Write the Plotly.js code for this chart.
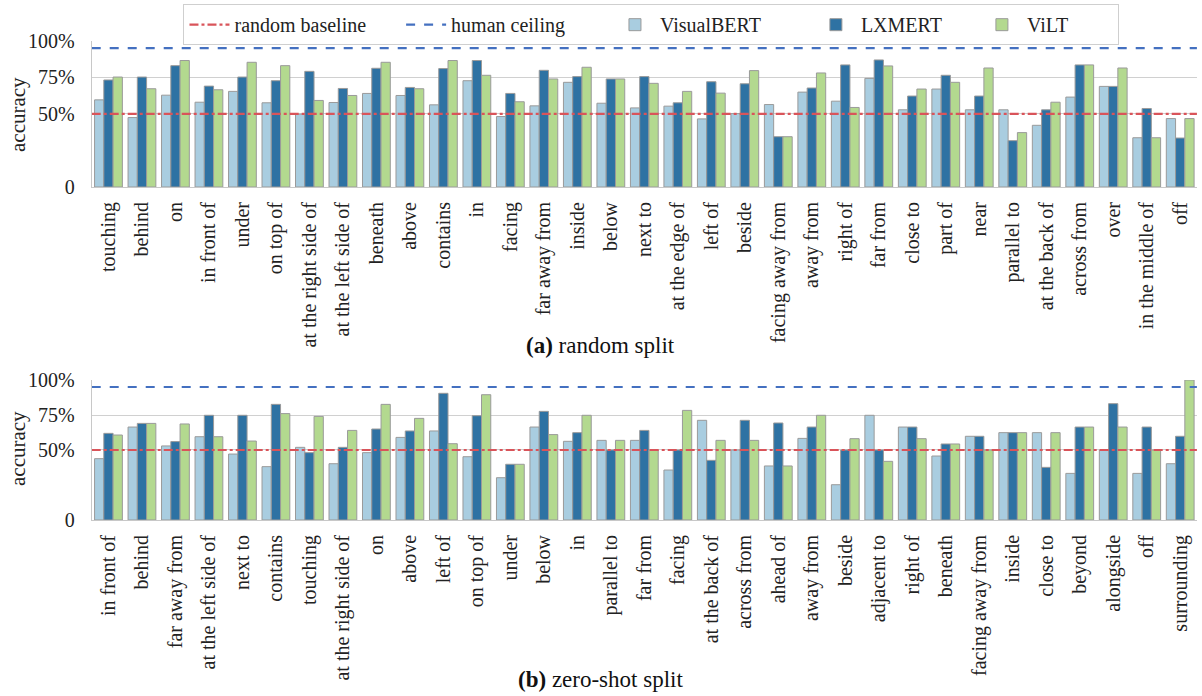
<!DOCTYPE html>
<html>
<head>
<meta charset="utf-8">
<script src="https://cdn.plot.ly/plotly-3.0.1.min.js"></script>
<style>
  html, body { margin: 0; padding: 0; background: #fff; }
  #chart { width: 1202px; height: 696px; }
</style>
</head>
<body>
<div id="chart"></div>
<script>
// Relations, random split
const relationsRandom = ["touching", "behind", "on", "in front of", "under", "on top of",
  "at the right side of", "at the left side of", "beneath", "above", "contains", "in",
  "facing", "far away from", "inside", "below", "next to", "at the edge of", "left of",
  "beside", "facing away from", "away from", "right of", "far from", "close to", "part of",
  "near", "parallel to", "at the back of", "across from", "over", "in the middle of", "off"];
const visualbertRandom = [59.6, 47.5, 62.8, 58.0, 65.4, 57.6, 49.8, 57.8, 64.0, 62.6, 56.2, 72.7,
  48.2, 55.5, 71.6, 57.3, 54.1, 55.3, 46.6, 50.2, 56.4, 64.9, 58.7, 74.3, 52.8, 67.0,
  52.8, 52.8, 42.2, 61.5, 68.8, 33.7, 46.8];
const lxmertRandom = [73.2, 75.2, 83.0, 69.0, 75.2, 72.7, 79.1, 67.4, 81.2, 68.1, 81.0, 86.5,
  64.0, 79.8, 75.5, 73.9, 75.5, 57.6, 72.0, 70.6, 34.4, 67.7, 83.5, 86.9, 62.2, 76.4,
  62.2, 31.7, 52.8, 83.5, 68.8, 53.7, 33.5];
const viltRandom = [75.2, 67.2, 86.5, 66.5, 85.3, 83.0, 59.2, 62.6, 85.3, 67.2, 86.5, 76.4,
  58.3, 73.9, 81.9, 73.9, 70.9, 65.4, 64.2, 79.6, 34.4, 78.0, 54.4, 82.8, 67.0, 71.6,
  81.4, 37.2, 58.0, 83.5, 81.4, 33.7, 46.8];

// Relations, zero-shot split
const relationsZero = ["in front of", "behind", "far away from", "at the left side of", "next to",
  "contains", "touching", "at the right side of", "on", "above", "left of", "on top of",
  "under", "below", "in", "parallel to", "far from", "facing", "at the back of",
  "across from", "ahead of", "away from", "beside", "adjacent to", "right of", "beneath",
  "facing away from", "inside", "close to", "beyond", "alongside", "off", "surrounding"];
const visualbertZero = [43.8, 66.4, 52.9, 59.5, 47.1, 38.1, 51.9, 40.2, 48.1, 59.0, 63.6, 45.2,
  30.2, 66.4, 56.2, 56.9, 56.9, 35.7, 71.2, 50.0, 38.6, 58.3, 25.2, 74.8, 66.4, 45.7,
  59.8, 62.4, 62.4, 33.3, 50.0, 33.3, 40.2];
const lxmertZero = [61.9, 69.0, 56.0, 74.8, 74.8, 82.6, 48.1, 51.9, 65.0, 63.6, 90.5, 74.5,
  39.8, 77.6, 62.4, 50.0, 64.0, 50.0, 42.6, 71.2, 69.3, 66.4, 50.0, 50.0, 66.4, 54.3,
  59.8, 62.4, 37.6, 66.4, 83.1, 66.4, 59.8];
const viltZero = [60.7, 69.0, 68.6, 59.5, 56.4, 76.0, 74.0, 64.0, 82.6, 72.6, 54.5, 89.5,
  39.8, 61.0, 74.8, 56.9, 50.0, 78.3, 56.9, 56.9, 38.6, 74.8, 58.1, 41.9, 58.1, 54.3,
  50.0, 62.4, 62.4, 66.4, 66.4, 50.0, 100.0];

// Reference levels
const randomBaseline = 50;
const humanCeiling = 95;

// Axis ticks
const yTickVals = [0, 50, 75, 100];
const yTickText = ["0", "50%", "75%", "100%"];

const FONT = "Liberation Serif, Times New Roman, serif";
const TEXT = "#222";
const colors = { VisualBERT: "#a9cde0", LXMERT: "#2e72a3", ViLT: "#b3d98f" };
const outline = { color: "#9a9a9a", width: 1 };

// legend column spacing: non-breaking spaces appended after each entry's label
const pad = n => "\u00a0".repeat(n);
const legendPad = { "random baseline": 6, "human ceiling": 8, VisualBERT: 9, LXMERT: 6, ViLT: 9 };

function bars(name, cats, vals, xa, ya, showlegend) {
  return {
    type: "bar", name: name + pad(legendPad[name]), x: cats, y: vals, xaxis: xa, yaxis: ya,
    marker: { color: colors[name], line: outline },
    showlegend: showlegend, legendgroup: name, hoverinfo: "x+y"
  };
}

function refLine(name, value, color, dash, xa, ya, showlegend) {
  return {
    type: "scatter", mode: "lines", name: name + pad(legendPad[name]), x: [0, 1], y: [value, value],
    xaxis: xa, yaxis: ya, line: { color: color, width: 2.2, dash: dash },
    showlegend: showlegend, legendgroup: name, hoverinfo: "skip"
  };
}

const data = [
  refLine("random baseline", randomBaseline, "#d9545a", "dashdot", "x3", "y", true),
  refLine("human ceiling", humanCeiling, "#4470c0", "dash", "x3", "y", true),
  bars("VisualBERT", relationsRandom, visualbertRandom, "x", "y", true),
  bars("LXMERT", relationsRandom, lxmertRandom, "x", "y", true),
  bars("ViLT", relationsRandom, viltRandom, "x", "y", true),
  refLine("random baseline", randomBaseline, "#d9545a", "dashdot", "x4", "y2", false),
  refLine("human ceiling", humanCeiling, "#4470c0", "dash", "x4", "y2", false),
  bars("VisualBERT", relationsZero, visualbertZero, "x2", "y2", false),
  bars("LXMERT", relationsZero, lxmertZero, "x2", "y2", false),
  bars("ViLT", relationsZero, viltZero, "x2", "y2", false)
];

const xDomain = [0.0763, 0.9958];

function catAxis(anchor) {
  return {
    type: "category", domain: xDomain, anchor: anchor,
    showline: true, linecolor: "#c8c8c8", linewidth: 1,
    showgrid: false, ticks: "", tickangle: -90,
    tickfont: { family: FONT, size: 20, color: TEXT },
    ticklabelstandoff: 6, fixedrange: true
  };
}

function overlayAxis(over, anchor) {
  return { domain: xDomain, overlaying: over, anchor: anchor, range: [0, 1],
    visible: false, fixedrange: true };
}

function valAxis(domain, anchor) {
  return {
    domain: domain, anchor: anchor, range: [0, 100],
    tickvals: yTickVals, ticktext: yTickText,
    showline: true, linecolor: "#c8c8c8", linewidth: 1,
    showgrid: true, gridcolor: "#d0d0d0", gridwidth: 1, zeroline: false,
    ticks: "", ticklabelstandoff: 12,
    tickfont: { family: FONT, size: 20, color: TEXT },
    fixedrange: true
  };
}

// y-axis titles, centred on each panel
function yTitle(y) {
  return { xref: "paper", yref: "paper", x: 18 / 1202, y: y, xanchor: "center", yanchor: "middle",
    textangle: -90, showarrow: false, text: "accuracy",
    font: { family: FONT, size: 21, color: TEXT } };
}

const layout = {
  width: 1202, height: 696,
  margin: { l: 0, r: 0, t: 0, b: 0 },
  paper_bgcolor: "#fff", plot_bgcolor: "#fff",
  barmode: "group", bargap: 0.17, bargroupgap: 0,
  font: { family: FONT, size: 20, color: TEXT },
  xaxis: catAxis("y"),
  xaxis2: catAxis("y2"),
  xaxis3: overlayAxis("x", "y"),
  xaxis4: overlayAxis("x2", "y2"),
  yaxis: valAxis([0.7313, 0.9414], "x"),
  yaxis2: valAxis([0.2529, 0.4540], "x2"),
  legend: {
    orientation: "h", x: 0.542, xanchor: "center", y: 0.994, yanchor: "top",
    bgcolor: "#fff", bordercolor: "#cfcfcf", borderwidth: 1,
    font: { family: FONT, size: 20, color: TEXT }, itemwidth: 40,
    traceorder: "normal"
  },
  annotations: [
    yTitle(1 - 115 / 696),
    yTitle(1 - 449 / 696),
    { xref: "paper", yref: "paper", x: 0.4992, y: 0.5043, xanchor: "center", yanchor: "middle",
      showarrow: false, text: "<b>(a)</b> random split", font: { family: FONT, size: 23, color: "#111" } },
    { xref: "paper", yref: "paper", x: 0.4992, y: 0.023, xanchor: "center", yanchor: "middle",
      showarrow: false, text: "<b>(b)</b> zero-shot split", font: { family: FONT, size: 23, color: "#111" } }
  ]
};

Plotly.newPlot("chart", data, layout, { displayModeBar: false, staticPlot: true });
</script>
</body>
</html>
